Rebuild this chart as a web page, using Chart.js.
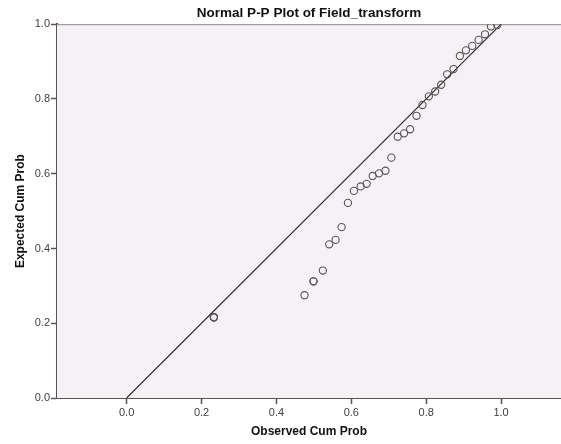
<!DOCTYPE html>
<html>
<head>
<meta charset="utf-8">
<script src="https://cdn.jsdelivr.net/npm/chart.js@4"></script>
<style>
  html, body { margin: 0; padding: 0; background: #ffffff; }
  #wrap { width: 561px; height: 444px; }
</style>
</head>
<body>
<div id="wrap"><canvas id="ppChart"></canvas></div>
<script>
// Normal P-P plot: observed vs expected cumulative probability
const observed = [
  0.233, 0.233, 0.233, 0.475, 0.499, 0.499, 0.524, 0.541, 0.558, 0.574,
  0.591, 0.607, 0.625, 0.641, 0.657, 0.674, 0.691, 0.707, 0.724, 0.741,
  0.757, 0.774, 0.790, 0.807, 0.824, 0.840, 0.856, 0.873, 0.890, 0.906,
  0.923, 0.940, 0.957, 0.973, 0.990
];
const expected = [
  0.216, 0.216, 0.216, 0.275, 0.312, 0.312, 0.341, 0.411, 0.423, 0.457,
  0.522, 0.554, 0.566, 0.573, 0.594, 0.601, 0.608, 0.643, 0.699, 0.708,
  0.719, 0.755, 0.784, 0.807, 0.820, 0.838, 0.866, 0.880, 0.915, 0.930,
  0.942, 0.958, 0.973, 0.994, 0.998
];
const referenceLine = [0, 1];
const tickValues = [0, 0.2, 0.4, 0.6, 0.8, 1.0];

const points = observed.map((x, i) => ({ x: x, y: expected[i] }));
const diagonal = referenceLine.map(v => ({ x: v, y: v }));

const FONT = "'Liberation Sans', Arial, sans-serif";

// plot background and the thin top frame line
const plotFrame = {
  id: "plotFrame",
  beforeDatasetsDraw(chart) {
    const { ctx, chartArea: a } = chart;
    ctx.save();
    ctx.fillStyle = "#f5f1f5";
    ctx.fillRect(a.left, a.top, a.right - a.left, a.bottom - a.top);
    ctx.strokeStyle = "#8a8a8a";
    ctx.lineWidth = 1;
    ctx.beginPath();
    ctx.moveTo(a.left, a.top + 0.5);
    ctx.lineTo(a.right, a.top + 0.5);
    ctx.stroke();
    ctx.restore();
  }
};

new Chart(document.getElementById("ppChart"), {
  type: "scatter",
  data: {
    datasets: [
      {
        type: "line",
        data: diagonal,
        borderColor: "#2b2b2b",
        borderWidth: 1.2,
        pointRadius: 0,
        fill: false,
        order: 2
      },
      {
        data: points,
        pointStyle: "circle",
        pointRadius: 3.6,
        pointBorderWidth: 1.1,
        pointBorderColor: "#555555",
        pointBackgroundColor: "rgba(0,0,0,0)",
        order: 1
      }
    ]
  },
  options: {
    responsive: true,
    maintainAspectRatio: false,
    animation: false,
    layout: { padding: 0, autoPadding: false },
    plugins: {
      legend: { display: false },
      tooltip: { enabled: false },
      title: {
        display: true,
        text: "Normal P-P Plot of Field_transform",
        fullSize: false,
        color: "#111111",
        font: { family: FONT, size: 13.5, weight: "bold" },
        padding: { top: 5, bottom: 3 }
      }
    },
    scales: {
      x: {
        type: "linear",
        min: -0.186,
        max: 1.16,
        afterBuildTicks: s => { s.ticks = tickValues.map(v => ({ value: v })); },
        afterFit: s => { s.height = 46; },
        grid: { drawOnChartArea: false, tickLength: 6, tickWidth: 1.5, color: "#555555" },
        border: { color: "#555555", width: 2 },
        ticks: {
          padding: 2,
          color: "#404040",
          font: { family: FONT, size: 11 },
          callback: v => v.toFixed(1)
        },
        title: {
          display: true,
          text: "Observed Cum Prob",
          color: "#111111",
          font: { family: FONT, size: 12, weight: "bold" },
          padding: { top: 0, bottom: 5 }
        }
      },
      y: {
        type: "linear",
        min: 0,
        max: 1,
        afterBuildTicks: s => { s.ticks = tickValues.map(v => ({ value: v })); },
        afterFit: s => { s.width = 57; },
        grid: { drawOnChartArea: false, tickLength: 6, tickWidth: 1.5, color: "#555555" },
        border: { color: "#555555", width: 2 },
        ticks: {
          padding: 1,
          color: "#404040",
          font: { family: FONT, size: 11 },
          callback: v => v.toFixed(1)
        },
        title: {
          display: true,
          text: "Expected Cum Prob",
          color: "#111111",
          font: { family: FONT, size: 12, weight: "bold" },
          padding: { top: 13, bottom: 0 }
        }
      }
    }
  },
  plugins: [plotFrame]
});
</script>
</body>
</html>
